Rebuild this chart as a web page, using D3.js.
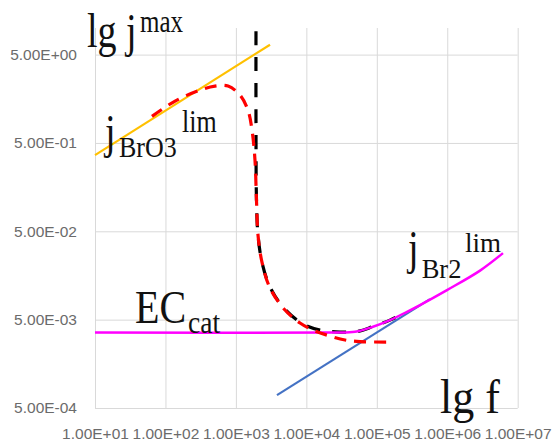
<!DOCTYPE html>
<html>
<head>
<meta charset="utf-8">
<script src="https://cdn.jsdelivr.net/npm/d3@7.9.0/dist/d3.min.js"></script>
<style>
  body { margin: 0; background: #fff; }
  svg { display: block; }
  .tick text { font-family: "Liberation Sans", Arial, sans-serif; font-size: 15.5px; fill: #6b6b6b; }
  .tick line { stroke: #d9d9d9; stroke-width: 1; }
  .note { font-family: "Liberation Serif", "Times New Roman", serif; fill: #111; }
</style>
</head>
<body>
<svg id="chart" width="553" height="443"></svg>
<script>
// ─── Data ────────────────────────────────────────────────────────────────────
const xTicks = [1e1, 1e2, 1e3, 1e4, 1e5, 1e6, 1e7];
const yTicks = [5e-4, 5e-3, 5e-2, 5e-1, 5e0];

// j_BrO3 lim asymptote (orange)
const bro3F = [10, 3050];
const bro3J = [0.364, 6.47];

// j_Br2 lim asymptote (blue)
const br2F = [3830, 568600];
const br2J = [7.0e-4, 8.55e-3];

// EC_cat combined with j_Br2 lim (magenta)
const ecF = [10, 21700, 49100, 88300, 153800, 268500, 410000, 991000, 2.92e6, 6.18e6];
const ecJ = [0.00357, 0.00357, 0.00364, 0.00416, 0.00494, 0.00614, 0.00731, 0.0108, 0.01795, 0.0283];

// j max (red dashed)
const redF = [64.4, 137, 309, 505, 773, 1143, 1486, 1694, 1866, 1959, 2060, 2344, 3048, 4977, 8128, 13270, 21680, 35400, 57800, 153800];
const redJ = [1.00, 1.49, 1.98, 2.20, 2.20, 1.74, 1.17, 0.698, 0.319, 0.113, 0.0453, 0.0224, 0.0114, 0.00643, 0.00458, 0.00372, 0.00326, 0.00294, 0.00282, 0.00279];

// black dashed
const blackF = [1928, 1928, 1959, 2060, 2344, 3048, 4667, 8954, 15630, 30060, 52360, 88300, 153800, 251200];
const blackJ = [9.2, 0.906, 0.113, 0.0453, 0.0224, 0.0117, 0.00695, 0.00446, 0.00381, 0.00362, 0.00367, 0.00418, 0.00494, 0.00601];

// ─── Scales ──────────────────────────────────────────────────────────────────
const plotL = 95, plotR = 517.7, plotT = 28, plotB = 408;
const x = d3.scaleLog().domain([10, 1e7]).range([plotL, plotR]);
const y = d3.scaleLog().domain([5e-4, 10]).range([plotB, plotT]);

const svg = d3.select('#chart');
svg.append('rect').attr('width', 553).attr('height', 443).attr('fill', '#fff');

// Excel style 1.00E+01
function sci(d) {
    const [m, e] = d.toExponential(2).split('e');
    return m + 'E' + e[0] + e.slice(1).padStart(2, '0');
}

// ─── Axes + gridlines ────────────────────────────────────────────────────────
svg.append('g')
    .attr('transform', `translate(0,${plotB})`)
    .call(d3.axisBottom(x).tickValues(xTicks).tickFormat(sci)
        .tickSize(-(plotB - plotT)).tickPadding(20))
    .call(g => g.select('.domain').remove());

svg.append('g')
    .attr('transform', `translate(${plotL},0)`)
    .call(d3.axisLeft(y).tickValues(yTicks).tickFormat(sci)
        .tickSize(-(plotR - plotL)).tickPadding(18))
    .call(g => g.select('.domain').remove());

// ─── Lines ───────────────────────────────────────────────────────────────────
const zip = (fs, js) => fs.map((f, i) => ({ f, j: js[i] }));
const straight = d3.line().x(d => x(d.f)).y(d => y(d.j));
const smooth = d3.line().x(d => x(d.f)).y(d => y(d.j)).curve(d3.curveCatmullRom.alpha(0.5));

svg.append('path').attr('d', straight(zip(bro3F, bro3J)))
    .attr('fill', 'none').attr('stroke', '#ffc000').attr('stroke-width', 2.2);

svg.append('path').attr('d', straight(zip(br2F, br2J)))
    .attr('fill', 'none').attr('stroke', '#4472c4').attr('stroke-width', 2.2);

svg.append('path').attr('d', smooth(zip(blackF, blackJ)))
    .attr('fill', 'none').attr('stroke', '#000').attr('stroke-width', 3.2)
    .attr('stroke-dasharray', '14,12');

svg.append('path').attr('d', smooth(zip(ecF, ecJ)))
    .attr('fill', 'none').attr('stroke', '#ff00ff').attr('stroke-width', 2.5);

svg.append('path').attr('d', smooth(zip(redF, redJ)))
    .attr('fill', 'none').attr('stroke', '#ff0000').attr('stroke-width', 3.2)
    .attr('stroke-dasharray', '12,8');

// ─── Annotations ─────────────────────────────────────────────────────────────
function note(txt, px, py, size, sy) {
    svg.append('text').attr('class', 'note')
        .attr('transform', `translate(${px},${py}) scale(1,${sy})`)
        .style('font-size', size + 'px')
        .text(txt);
}
note('lg j', 87, 47, 38, 1.25);
note('max', 140, 32, 25, 1.3);
note('j', 105, 148, 38, 1.25);
note('BrO3', 119, 157, 26, 1.1);
note('lim', 182, 132, 26, 1.24);
note('EC', 135, 323, 40, 1.15);
note('cat', 188, 333, 27.5, 1.15);
note('j', 408, 264, 38, 1.25);
note('Br2', 421.7, 278, 26.5, 1.05);
note('lim', 465, 251.7, 27, 1.05);
note('lg f', 440, 413, 44, 1.1);
</script>
</body>
</html>
